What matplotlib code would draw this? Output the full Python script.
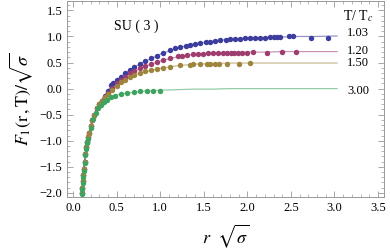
import numpy as np
import matplotlib
matplotlib.use('Agg')
import matplotlib.pyplot as plt
from matplotlib.ticker import MultipleLocator

plt.rcParams['font.family'] = 'Liberation Serif'
plt.rcParams['mathtext.fontset'] = 'stix'

# small-r points shared by all temperatures
r_low = [0.10, 0.105, 0.11, 0.115, 0.12, 0.13, 0.14, 0.15, 0.16, 0.17, 0.18, 0.20, 0.22, 0.24, 0.27, 0.30, 0.33]
F_low = [-2.0, -1.9, -1.78, -1.66, -1.55, -1.4, -1.25, -1.12, -1.02, -0.93, -0.85, -0.72, -0.6, -0.5, -0.38, -0.3, -0.23]

# T/Tc = 1.03
r_103 = [0.36, 0.40, 0.43, 0.46, 0.50, 0.55, 0.60, 0.65, 0.70, 0.77, 0.83, 0.89, 0.96, 1.03,
         1.11, 1.17, 1.23, 1.29, 1.34, 1.40, 1.46, 1.52, 1.57, 1.63, 1.69, 1.75, 1.80, 1.86,
         1.92, 1.97, 2.03, 2.09, 2.15, 2.20, 2.26, 2.30, 2.34, 2.38, 2.48, 2.52, 2.73, 2.92]
F_103 = [-0.14, -0.04, 0.07, 0.11, 0.16, 0.23, 0.30, 0.36, 0.41, 0.48, 0.53, 0.58, 0.63, 0.69,
         0.75, 0.78, 0.80, 0.82, 0.84, 0.86, 0.87, 0.89, 0.90, 0.92, 0.93, 0.94, 0.95, 0.96,
         0.96, 0.97, 0.97, 0.97, 0.98, 0.98, 0.99, 0.99, 0.99, 0.99, 1.00, 1.00, 0.98, 0.97]

# T/Tc = 1.20
r_120 = [0.36, 0.40, 0.45, 0.50, 0.55, 0.60, 0.65, 0.70, 0.77, 0.83, 0.89, 0.96, 1.03,
         1.11, 1.20, 1.25, 1.31, 1.37, 1.43, 1.49, 1.55, 1.61, 1.66, 1.72, 1.77, 1.81,
         1.85, 1.89, 1.94, 2.00, 2.06, 2.23, 2.40, 2.56]
F_120 = [-0.16, -0.08, 0.02, 0.10, 0.17, 0.23, 0.29, 0.33, 0.39, 0.43, 0.47, 0.51, 0.55,
         0.59, 0.62, 0.63, 0.64, 0.66, 0.66, 0.67, 0.68, 0.68, 0.68, 0.69, 0.69, 0.69,
         0.69, 0.69, 0.69, 0.69, 0.70, 0.69, 0.70, 0.70]

# T/Tc = 1.50
r_150 = [0.36, 0.40, 0.45, 0.50, 0.55, 0.60, 0.65, 0.70, 0.77, 0.83, 0.89, 0.96, 1.03,
         1.11, 1.23, 1.34, 1.38, 1.46, 1.54, 1.57, 1.63, 1.67, 1.77, 1.90, 2.03]
F_150 = [-0.17, -0.10, -0.02, 0.05, 0.12, 0.17, 0.22, 0.26, 0.30, 0.33, 0.36, 0.38, 0.40,
         0.42, 0.45, 0.46, 0.47, 0.48, 0.48, 0.48, 0.48, 0.48, 0.48, 0.47, 0.50]

# T/Tc = 3.00
r_300 = [0.20, 0.23, 0.26, 0.29, 0.32, 0.35, 0.39, 0.43, 0.48, 0.55, 0.62, 0.70, 0.77, 0.85, 0.92, 1.00]
F_300 = [-0.76, -0.58, -0.47, -0.38, -0.31, -0.26, -0.21, -0.17, -0.14, -0.11, -0.08, -0.06, -0.05, -0.04, -0.04, -0.04]

# fitted curves
fit_r = [0.10, 0.12, 0.14, 0.17, 0.20, 0.25, 0.30, 0.40, 0.50, 0.60, 0.70, 0.80, 1.00,
         1.20, 1.40, 1.60, 1.80, 2.00, 2.20, 2.40, 2.60, 2.80, 3.03]
fit_103 = [-2.0, -1.56, -1.26, -0.94, -0.72, -0.46, -0.28, -0.03, 0.16, 0.30, 0.41, 0.50, 0.66,
           0.78, 0.86, 0.91, 0.95, 0.97, 0.98, 0.99, 1.00, 1.00, 1.01]
fit_120 = [-2.0, -1.56, -1.26, -0.94, -0.72, -0.46, -0.29, -0.07, 0.10, 0.23, 0.33, 0.41, 0.53,
           0.61, 0.66, 0.68, 0.69, 0.70, 0.70, 0.71, 0.71, 0.71, 0.71]
fit_150 = [-2.0, -1.56, -1.26, -0.94, -0.72, -0.46, -0.30, -0.09, 0.05, 0.17, 0.26, 0.31, 0.39,
           0.44, 0.47, 0.48, 0.49, 0.49, 0.49, 0.49, 0.49, 0.49, 0.49]
fit_300 = [-2.0, -1.58, -1.28, -0.97, -0.74, -0.50, -0.35, -0.19, -0.12, -0.09, -0.07, -0.05, -0.03,
           -0.02, -0.01, -0.01, 0.0, 0.0, 0.0, 0.0, 0.0, 0.0, 0.0]

labels = ['1.03', '1.20', '1.50', '3.00']
label_y = [1.07, 0.73, 0.49, -0.05]
colors = ['#3d3d9e', '#9e3d70', '#9e853d', '#3da460']

series = [(r_103, F_103, fit_103), (r_120, F_120, fit_120),
          (r_150, F_150, fit_150), (r_300, F_300, fit_300)]

fig = plt.figure(figsize=(3.9, 2.52), dpi=100)
ax = fig.add_axes([0.172, 0.218, 0.813, 0.778])

for (rr, ff, fit), c in zip(series, colors):
    ax.plot(fit_r, fit, color=c, lw=0.9, alpha=0.55, zorder=2)
for (rr, ff, fit), c in zip(series, colors):
    if rr is r_300:
        xs, ys = r_low[:10] + rr, [v - 0.03 for v in F_low[:10]] + ff
    else:
        xs, ys = r_low + rr, F_low + ff
    ax.plot(xs, ys, 'o', color=c, ms=3.9, mew=0, zorder=3)

ax.text(0.72, 1.2, 'SU ( 3 )', fontsize=10, ha='center', va='center')
ax.text(3.27, 1.40, r'T/ T$_{c}$', fontsize=10, ha='center', va='center')
for lab, y in zip(labels, label_y):
    ax.text(3.27, y, lab, fontsize=9, ha='center', va='center')

ax.set_xlim(-0.07, 3.57)
ax.set_ylim(-2.08, 1.68)
ax.xaxis.set_minor_locator(MultipleLocator(0.1))
ax.yaxis.set_minor_locator(MultipleLocator(0.1))
ax.set_xticks(np.arange(0, 3.51, 0.5))
ax.set_yticks(np.arange(-2.0, 1.51, 0.5))
ax.tick_params(which='both', direction='in', top=True, right=True, color='#999999', labelsize=9)
ax.tick_params(which='major', length=4, width=0.6)
ax.tick_params(which='minor', length=2, width=0.5)
ax.yaxis.set_major_formatter(matplotlib.ticker.FuncFormatter(lambda v, p: ('\u2212' if v < -1e-9 else '') + '%.1f' % abs(v)))
for s in ax.spines.values():
    s.set_color('#999999')
    s.set_linewidth(0.7)

ax.set_xlabel(r'$r\ \ \sqrt{\sigma}$', fontsize=13, labelpad=6)
ax.set_ylabel(r'$F_1(\mathrm{r\,,T})/\sqrt{\sigma}$', fontsize=13, labelpad=3)

fig.savefig('out.png', dpi=100)
